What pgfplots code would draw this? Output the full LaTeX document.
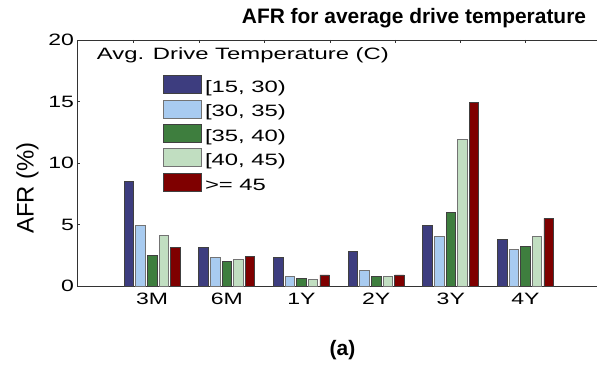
\documentclass[border=0pt]{standalone}
\usepackage{graphicx}
\usepackage{pgfplots}
\pgfplotsset{compat=1.18}
\usepackage{fontspec}
\setmainfont{Liberation Sans}
\definecolor{c1}{RGB}{61,61,127}
\definecolor{c2}{RGB}{168,203,240}
\definecolor{c3}{RGB}{62,126,62}
\definecolor{c4}{RGB}{193,222,193}
\definecolor{c5}{RGB}{127,0,0}
\newcommand{\wide}[1]{\scalebox{1.45}[1]{#1}}
\begin{document}
\begin{tikzpicture}
\begin{axis}[
  at={(0,0)}, anchor=south west,
  width=519.5bp, height=246bp, scale only axis,
  xmin=0, xmax=6.958, ymin=0, ymax=20,
  clip=false,
  ytick={0,5,10,15,20},
  xtick={1,2,3,4,5,6}, xticklabels={3M,6M,1Y,2Y,3Y,4Y},
  axis x line*=bottom, axis y line*=left,
  axis line style={black!80, line width=0.6bp},
  x tick style={draw=none},
  y tick style={black!80, line width=0.6bp},
  tick align=inside, major tick length=3bp,
  ybar=2.1bp, bar width=9.5bp,
  tick label style={font=\fontsize{16.5}{16.5}\selectfont, xscale=1.4},
  yticklabel style={xshift=1bp},
  xticklabel style={yshift=-1bp},
  /pgf/number format/assume math mode=true,
  legend style={at={(axis description cs:0.1646,0.858)}, anchor=north west,
    draw=none, fill=none, inner sep=0pt, row sep=3bp,
    font=\fontsize{16.5}{16.5}\selectfont,
    nodes={inner sep=0pt, text height=12bp, text depth=4bp}},
  legend cell align=left,
  legend image code/.code={\draw[#1, line width=0.8bp] (0bp,-5bp) rectangle (38bp,13bp);},
  every axis plot/.append style={line width=0.8bp},
]
\addplot[fill=c1, draw=black!75] coordinates {(1,8.5) (2,3.1) (3,2.3) (4,2.8) (5,4.95) (6,3.8)};
\addlegendentry{\hspace{3bp}\wide{\relax[15, 30)}}
\addplot[fill=c2, draw=black!55] coordinates {(1,4.95) (2,2.3) (3,0.8) (4,1.3) (5,4.0) (6,3.0)};
\addlegendentry{\hspace{3bp}\wide{\relax[30, 35)}}
\addplot[fill=c3, draw=black!75] coordinates {(1,2.5) (2,2.0) (3,0.62) (4,0.8) (5,6.0) (6,3.2)};
\addlegendentry{\hspace{3bp}\wide{\relax[35, 40)}}
\addplot[fill=c4, draw=black!55] coordinates {(1,4.1) (2,2.15) (3,0.5) (4,0.8) (5,11.95) (6,4.0)};
\addlegendentry{\hspace{3bp}\wide{\relax[40, 45)}}
\addplot[fill=c5, draw=black!75] coordinates {(1,3.1) (2,2.4) (3,0.9) (4,0.9) (5,14.95) (6,5.5)};
\addlegendentry{\hspace{3bp}\wide{>= 45}}
\draw[black!80, line width=0.6bp] (axis cs:0,20) -- (axis cs:6.958,20);
\draw[black!80, line width=0.6bp] (axis cs:0.743,20) -- ([yshift=-3bp]axis cs:0.743,20);
\draw[black!80, line width=0.6bp] (axis cs:1.627,20) -- ([yshift=-3bp]axis cs:1.627,20);
\draw[black!80, line width=0.6bp] (axis cs:2.498,20) -- ([yshift=-3bp]axis cs:2.498,20);
\draw[black!80, line width=0.6bp] (axis cs:3.382,20) -- ([yshift=-3bp]axis cs:3.382,20);
\draw[black!80, line width=0.6bp] (axis cs:4.253,20) -- ([yshift=-3bp]axis cs:4.253,20);
\draw[black!80, line width=0.6bp] (axis cs:5.124,20) -- ([yshift=-3bp]axis cs:5.124,20);
\draw[black!80, line width=0.6bp] (axis cs:6.003,20) -- ([yshift=-3bp]axis cs:6.003,20);
\end{axis}
\node[font=\bfseries\fontsize{21}{21}\selectfont] at (336.5bp,268bp) {AFR for average drive temperature};
\node[font=\fontsize{16.5}{16.5}\selectfont, anchor=west, inner sep=0pt] at (19.2bp,231bp) {\wide{Avg. Drive Temperature (C)}};
\node[font=\fontsize{24}{24}\selectfont, rotate=90] at (-50bp,98bp) {AFR (\%)};
\node[font=\bfseries\fontsize{21}{21}\selectfont] at (265bp,-64bp) {(a)};
\pgfresetboundingbox
\path[use as bounding box] (-77.5bp,-83bp) rectangle (519.5bp,286bp);
\end{tikzpicture}
\end{document}
